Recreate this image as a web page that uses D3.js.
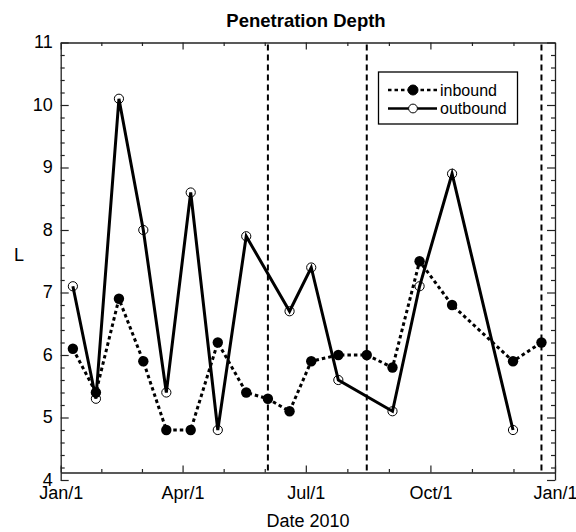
<!DOCTYPE html>
<html>
<head>
<meta charset="utf-8">
<script src="https://cdn.jsdelivr.net/npm/d3@7"></script>
<style>
  html, body { margin: 0; padding: 0; background: #fff; }
  svg { display: block; font-family: "Liberation Sans", Arial, sans-serif; }
</style>
</head>
<body>
<svg id="chart" width="576" height="532"></svg>
<script>
// ---- data ----
const inboundDates = ["2010-01-10","2010-01-27","2010-02-13","2010-03-03","2010-03-20","2010-04-07",
  "2010-04-27","2010-05-18","2010-06-03","2010-06-19","2010-07-05","2010-07-25","2010-08-15",
  "2010-09-03","2010-09-23","2010-10-17","2010-12-01","2010-12-22"];
const inboundL = [6.1,5.4,6.9,5.9,4.8,4.8,6.2,5.4,5.3,5.1,5.9,6.0,6.0,5.8,7.5,6.8,5.9,6.2];
const outboundDates = ["2010-01-10","2010-01-27","2010-02-13","2010-03-03","2010-03-20","2010-04-07",
  "2010-04-27","2010-05-18","2010-06-19","2010-07-05","2010-07-25","2010-09-03","2010-09-23",
  "2010-10-17","2010-12-01"];
const outboundL = [7.1,5.3,10.1,8.0,5.4,8.6,4.8,7.9,6.7,7.4,5.6,5.1,7.1,8.9,4.8];
const markerDates = ["2010-06-03","2010-08-15","2010-12-22"];
const xTickDates = ["2010-01-01","2010-04-01","2010-07-01","2010-10-01","2011-01-01"];
const yTicks = [4,5,6,7,8,9,10,11];
const seriesNames = ["inbound","outbound"];
const titleText = "Penetration Depth";
const xLabel = "Date 2010";
const yLabel = "L";

// ---- setup ----
const parse = d3.utcParse("%Y-%m-%d");
const svg = d3.select("#chart");
const L = 60.7, R = 555, T = 42.5, B = 480, XAXIS_Y = 472.5;
const frame = "#222";

const x = d3.scaleUtc().domain([parse("2010-01-01"), parse("2011-01-01")]).range([L, R]);
const y = d3.scaleLinear().domain([4, 11]).range([B, T]);

const inbound = inboundDates.map((d, i) => ({date: parse(d), v: inboundL[i]}));
const outbound = outboundDates.map((d, i) => ({date: parse(d), v: outboundL[i]}));

const xMajor = xTickDates.map(parse);
const xMinor = [];
for (let i = 0; i < xMajor.length - 1; i++) {
  const a = +xMajor[i], b = +xMajor[i+1];
  xMinor.push(new Date(a + (b - a) / 3), new Date(a + 2 * (b - a) / 3));
}
const yMinor = d3.range(4, 11.001, 0.2).map(v => +v.toFixed(1)).filter(v => !yTicks.includes(v));

const fmt = d3.utcFormat("%b/%-d");

// ---- title ----
svg.append("text").attr("x", 306).attr("y", 27).attr("text-anchor", "middle")
  .attr("font-size", 18.5).attr("font-weight", "bold").text(titleText);

// ---- axes ----
// left
const gl = svg.append("g").attr("transform", `translate(${L},0)`);
gl.call(d3.axisLeft(y).tickValues(yTicks).tickSize(-8).tickSizeOuter(0).tickPadding(8).tickFormat(d3.format("d")));
gl.call(g => g.selectAll(".tick text").attr("font-size", 18).attr("fill", "#000").attr("dy", "0.28em"));
gl.append("g").call(d3.axisLeft(y).tickValues(yMinor).tickSize(-4).tickFormat(""))
  .call(g => g.select(".domain").remove());
// right
const gr = svg.append("g").attr("transform", `translate(${R},0)`);
gr.call(d3.axisRight(y).tickValues(yTicks).tickSize(-8).tickSizeOuter(0).tickFormat(""));
gr.append("g").call(d3.axisRight(y).tickValues(yMinor).tickSize(-4).tickFormat(""))
  .call(g => g.select(".domain").remove());
// bottom
const gb = svg.append("g").attr("transform", `translate(0,${XAXIS_Y})`);
gb.call(d3.axisBottom(x).tickValues(xMajor).tickSize(-7).tickSizeOuter(0).tickPadding(14).tickFormat(fmt));
gb.call(g => g.selectAll(".tick text").attr("font-size", 18).attr("fill", "#000"));
gb.append("g").call(d3.axisBottom(x).tickValues(xMinor).tickSize(-3.5).tickFormat(""))
  .call(g => g.select(".domain").remove());
// top
const gt = svg.append("g").attr("transform", `translate(0,${T})`);
gt.call(d3.axisTop(x).tickValues(xMajor).tickSize(-7).tickSizeOuter(0).tickFormat(""));
gt.append("g").call(d3.axisTop(x).tickValues(xMinor).tickSize(-3.5).tickFormat(""))
  .call(g => g.select(".domain").remove());

svg.selectAll(".domain").attr("stroke", frame).attr("stroke-width", 1.3);
svg.selectAll(".tick line").attr("stroke", frame).attr("stroke-width", 1.2);

// axis labels
svg.append("text").attr("x", 308).attr("y", 527).attr("text-anchor", "middle")
  .attr("font-size", 18).text(xLabel);
svg.append("text").attr("x", 14).attr("y", 261)
  .attr("font-size", 18).text(yLabel);

// ---- dashed markers ----
svg.append("g").selectAll("line").data(markerDates.map(parse)).join("line")
  .attr("x1", d => x(d)).attr("x2", d => x(d))
  .attr("y1", T + 2).attr("y2", XAXIS_Y - 2)
  .attr("stroke", "#000").attr("stroke-width", 2).attr("stroke-dasharray", "6,4");

// ---- series ----
const line = d3.line().x(d => x(d.date)).y(d => y(d.v));

svg.append("path").datum(inbound).attr("d", line).attr("fill", "none")
  .attr("stroke", "#000").attr("stroke-width", 3).attr("stroke-dasharray", "3.5,3");
svg.append("g").selectAll("circle").data(inbound).join("circle")
  .attr("cx", d => x(d.date)).attr("cy", d => y(d.v)).attr("r", 5.2).attr("fill", "#000");

svg.append("path").datum(outbound).attr("d", line).attr("fill", "none")
  .attr("stroke", "#000").attr("stroke-width", 3).attr("stroke-linejoin", "miter");
svg.append("g").selectAll("circle").data(outbound).join("circle")
  .attr("cx", d => x(d.date)).attr("cy", d => y(d.v)).attr("r", 4.6)
  .attr("fill", "none").attr("stroke", "#000").attr("stroke-width", 1);

// ---- legend ----
const lg = svg.append("g");
lg.append("rect").attr("x", 378.5).attr("y", 72).attr("width", 139).attr("height", 52)
  .attr("fill", "#fff").attr("stroke", "#000").attr("stroke-width", 1.3);
const rows = [
  {name: seriesNames[0], y: 90, dash: "3.5,3", filled: true},
  {name: seriesNames[1], y: 108.5, dash: null, filled: false}
];
rows.forEach(r => {
  lg.append("line").attr("x1", 388).attr("x2", 437).attr("y1", r.y).attr("y2", r.y)
    .attr("stroke", "#000").attr("stroke-width", 2.5)
    .attr("stroke-dasharray", r.dash);
  lg.append("circle").attr("cx", 413).attr("cy", r.y).attr("r", r.filled ? 5 : 4.4)
    .attr("fill", r.filled ? "#000" : "#fff").attr("stroke", "#000").attr("stroke-width", 1);
  lg.append("text").attr("x", 440).attr("y", r.y + 5.5).attr("font-size", 16).text(r.name);
});
</script>
</body>
</html>
